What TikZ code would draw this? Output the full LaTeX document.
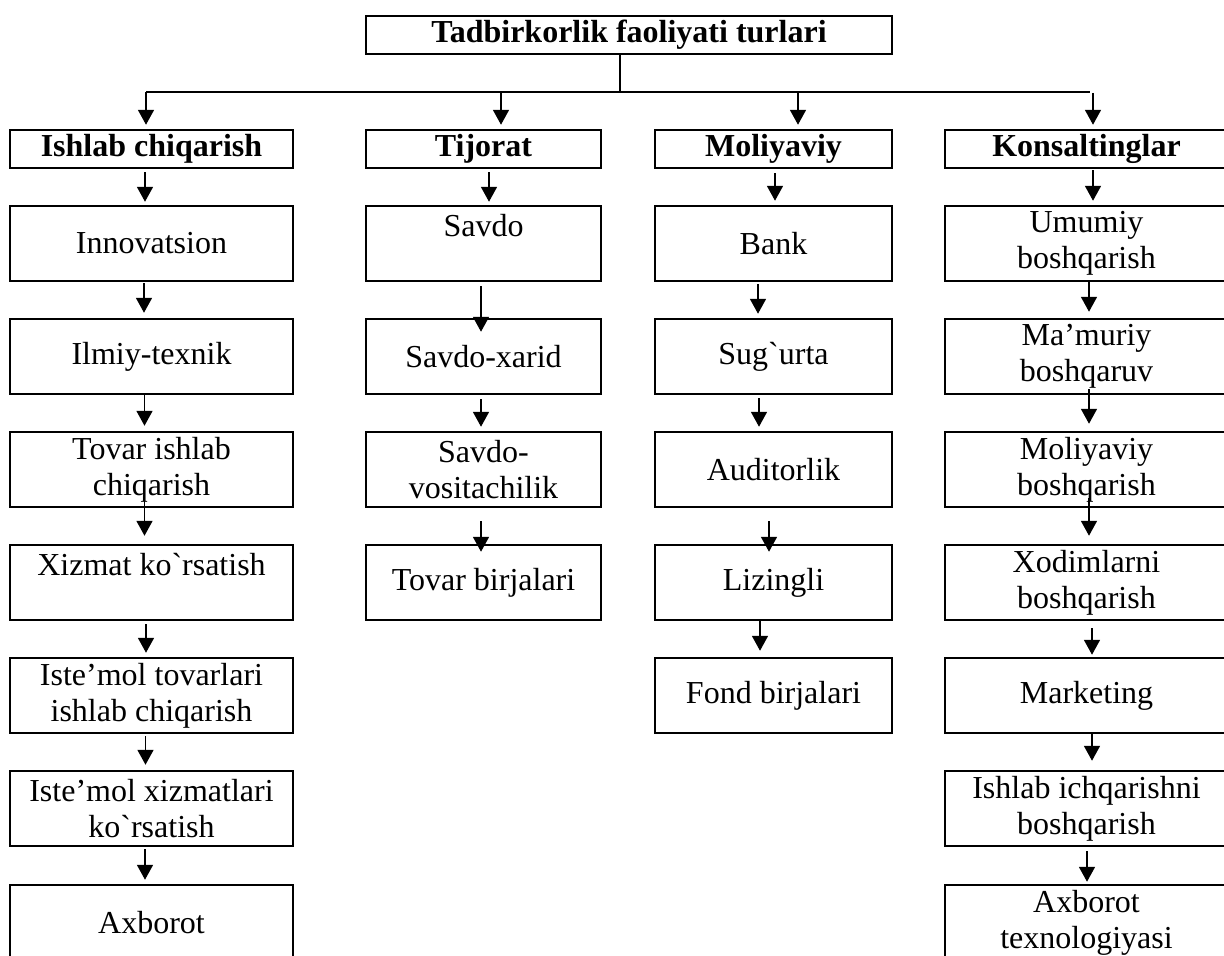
\documentclass[tikz,border=0pt]{standalone}
\usepackage{fontspec}
\setmainfont{Liberation Serif}[Ligatures=TeXOff]
\usetikzlibrary{arrows.meta,calc}
\newcommand\link[5]{\draw[arr] ($(#1.south)+(#3,#4)$) -- ($(#2.north)+(#3,#5)$);}
\begin{document}
\begin{tikzpicture}[x=1pt,y=-1pt,
  box/.style={draw, line width=2.5pt, inner sep=0pt, align=center, font=\fontsize{32}{36}\selectfont},
  w1/.style={minimum width=283pt},
  w2/.style={minimum width=235pt},
  w3/.style={minimum width=237pt},
  hd/.style={box, minimum height=38pt, font=\fontsize{32}{36}\selectfont\bfseries},
  cell/.style={box, minimum height=75pt},
  arr/.style={line width=1.8pt, -{Triangle[length=15pt,width=16pt]}},
  ln/.style={line width=2.5pt}]
\clip (0,0) rectangle (1224,956);
\fill[white] (0,0) rectangle (1224,956);
% title and headings
\node[hd, minimum width=526pt] (title) at (629,35) {Tadbirkorlik faoliyati turlari};
\node[hd,w1] (h1) at (151.5,149) {Ishlab chiqarish};
\node[hd,w2] (h2) at (483.5,149) {Tijorat};
\node[hd,w3] (h3) at (773.5,149) {Moliyaviy};
\node[hd,w1] (h4) at (1086.5,149) {Konsaltinglar};
% column 1
\node[cell,w1] (a1) at (151.5,243.5) {Innovatsion};
\node[cell,w1] (a2) at (151.5,356.5) {Ilmiy-texnik};
\node[cell,w1] (a3) at (151.5,469.5) {Tovar ishlab\\chiqarish};
\node[cell,w1] (a4) at (151.5,582.5) {Xizmat ko`rsatish\\\phantom{X}};
\node[cell,w1] (a5) at (151.5,695.5) {Iste’mol tovarlari\\ishlab chiqarish};
\node[cell,w1] (a6) at (151.5,808.5) {Iste’mol xizmatlari\\ko`rsatish};
\node[cell,w1] (a7) at (151.5,922.5) {Axborot};
% column 2
\node[cell,w2] (b1) at (483.5,243.5) {Savdo\\\phantom{S}};
\node[cell,w2] (b2) at (483.5,356.5) {Savdo-xarid};
\node[cell,w2] (b3) at (483.5,469.5) {Savdo-\\vositachilik};
\node[cell,w2] (b4) at (483.5,582.5) {Tovar birjalari};
% column 3
\node[cell,w3] (c1) at (773.5,243.5) {Bank};
\node[cell,w3] (c2) at (773.5,356.5) {Sug`urta};
\node[cell,w3] (c3) at (773.5,469.5) {Auditorlik};
\node[cell,w3] (c4) at (773.5,582.5) {Lizingli};
\node[cell,w3] (c5) at (773.5,695.5) {Fond birjalari};
% column 4
\node[cell,w1] (d1) at (1086.5,243.5) {Umumiy\\boshqarish};
\node[cell,w1] (d2) at (1086.5,356.5) {Ma’muriy\\boshqaruv};
\node[cell,w1] (d3) at (1086.5,469.5) {Moliyaviy\\boshqarish};
\node[cell,w1] (d4) at (1086.5,582.5) {Xodimlarni\\boshqarish};
\node[cell,w1] (d5) at (1086.5,695.5) {Marketing};
\node[cell,w1] (d6) at (1086.5,808.5) {Ishlab ichqarishni\\boshqarish};
\node[cell,w1] (d7) at (1086.5,922.5) {Axborot\\texnologiyasi};
% top bus
\draw[ln] ($(title.south)+(-9,0)$) -- ++(0,38) coordinate (tj);
\coordinate (busL) at (146,92);
\coordinate (busR) at (1090,92);
\draw[ln] (busL) -- (busR);
\draw[arr] (busL) -- ($(h1.north)+(-5.5,-4)$);
\draw[arr] ($(h2.north)+(17.5,-36)$) -- ($(h2.north)+(17.5,-4)$);
\draw[arr] ($(h3.north)+(24.5,-36)$) -- ($(h3.north)+(24.5,-4)$);
\draw[arr] ($(h4.north)+(6.5,-36)$) -- ($(h4.north)+(6.5,-4)$);
% column 1 links
\link{h1}{a1}{-6.5}{3}{-3}
\link{a1}{a2}{-7.5}{1}{-5}
\link{a2}{a3}{-7}{0}{-5}
\link{a3}{a4}{-7}{-7}{-8}
\link{a4}{a5}{-5.5}{3}{-4}
\link{a5}{a6}{-6}{2}{-5}
\link{a6}{a7}{-6.5}{2}{-4}
% column 2 links
\link{h2}{b1}{5.5}{3}{-3}
\link{b1}{b2}{-2.5}{4}{14}
\link{b2}{b3}{-2.5}{4}{-4}
\link{b3}{b4}{-2.5}{13}{8}
% column 3 links
\link{h3}{c1}{1.5}{4}{-4}
\link{c1}{c2}{-15.5}{2}{-4}
\link{c2}{c3}{-14.5}{3}{-4}
\link{c3}{c4}{-4.5}{13}{8}
\link{c4}{c5}{-13.5}{0}{-6}
% column 4 links
\link{h4}{d1}{6.5}{1}{-4}
\link{d1}{d2}{2.5}{-1}{-6}
\link{d2}{d3}{2.5}{-6}{-7}
\link{d3}{d4}{2.5}{-10}{-8}
\link{d4}{d5}{5.5}{7}{-2}
\link{d5}{d6}{5.5}{-1}{-9}
\link{d6}{d7}{0.5}{4}{-2}
\end{tikzpicture}
\end{document}
